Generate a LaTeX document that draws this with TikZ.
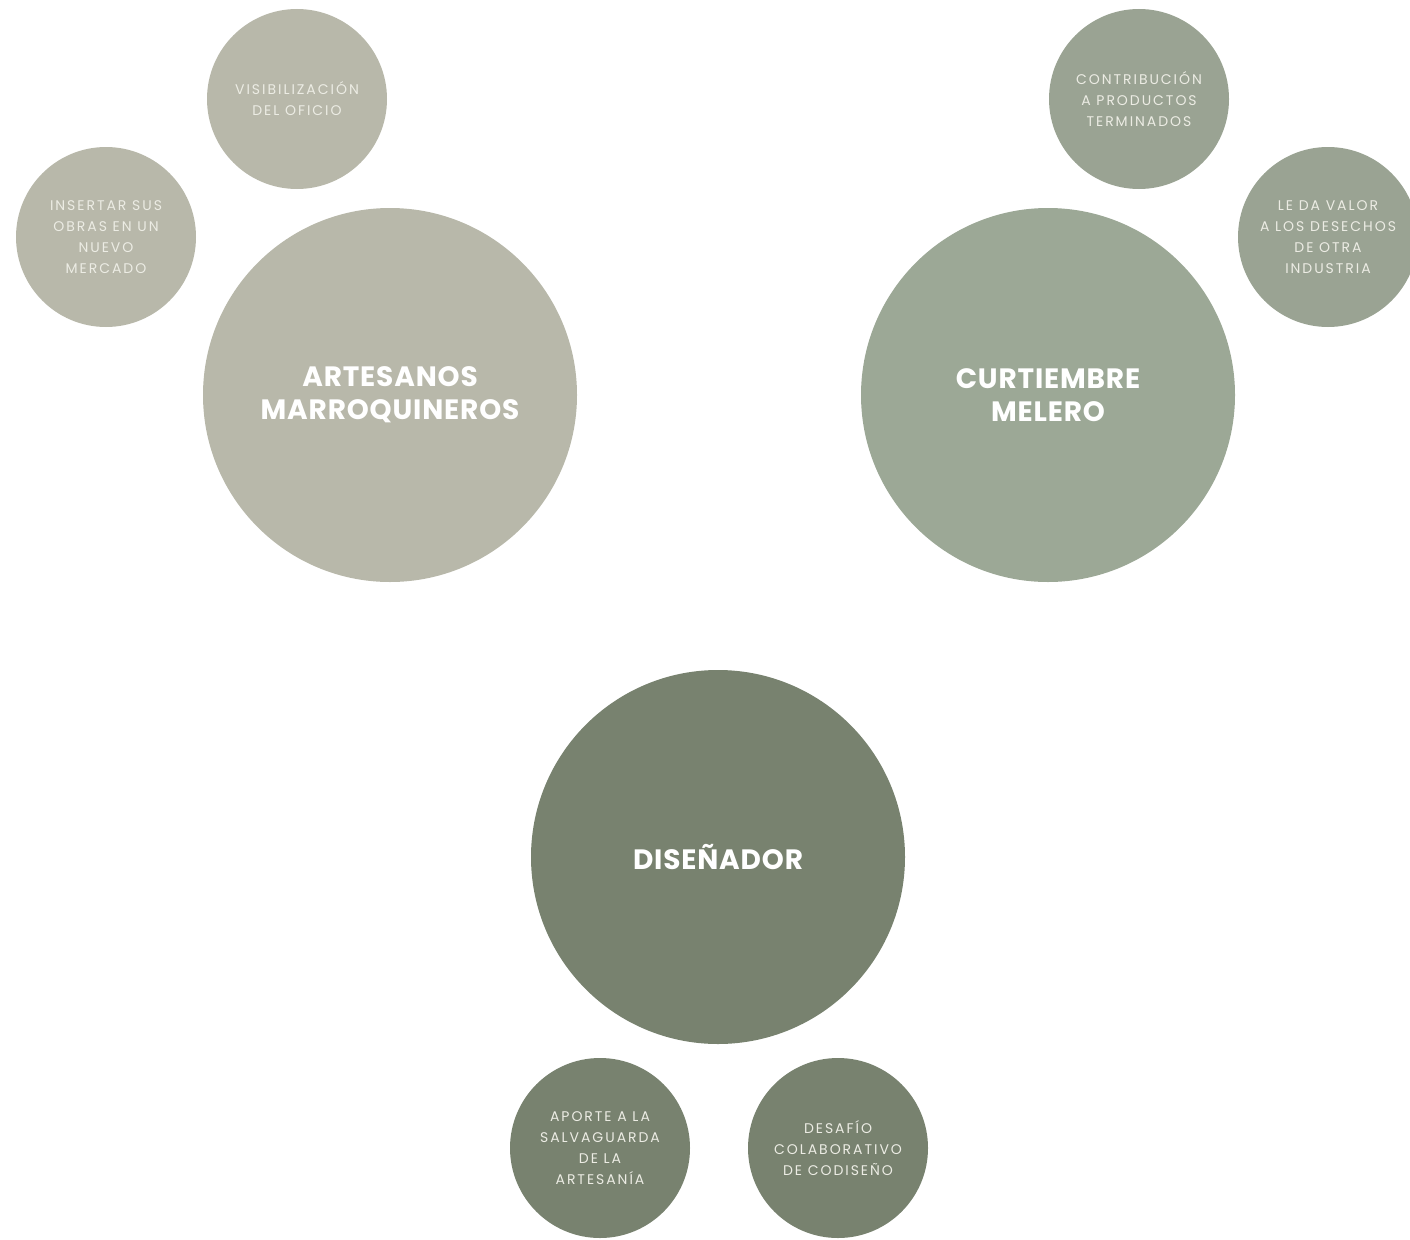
\documentclass[tikz,border=0pt]{standalone}
\usepackage{fontspec}
\setmainfont{Poppins}
\definecolor{cArt}{HTML}{B8B8AA}
\definecolor{cCur}{HTML}{9CA896}
\definecolor{cCurS}{HTML}{9AA393}
\definecolor{cDis}{HTML}{78826F}
\definecolor{txtS}{HTML}{ECECE4}
\begin{document}
\begin{tikzpicture}[x=1pt,y=-1pt,
  bigc/.style={circle,minimum size=374pt,inner sep=0pt,align=center,text=white,font=\fontsize{28}{33}\selectfont\bfseries\addfontfeature{LetterSpace=3}},
  smallc/.style={circle,minimum size=180pt,inner sep=0pt,align=center,text=txtS,font=\fontsize{14}{21}\selectfont\addfontfeature{LetterSpace=14}}]
\useasboundingbox (0,0) rectangle (1410,1239);
\node[bigc,fill=cArt] (art) at (390,395) {ARTESANOS\\MARROQUINEROS};
\node[smallc,fill=cArt] (vis) at (297,99) {VISIBILIZACIÓN\\DEL OFICIO};
\node[smallc,fill=cArt] (ins) at (106,237) {INSERTAR SUS\\OBRAS EN UN\\NUEVO\\MERCADO};
\node[bigc,fill=cCur] (cur) at (1048,395) {CURTIEMBRE\\MELERO};
\node[smallc,fill=cCurS] (con) at (1139,99) {CONTRIBUCIÓN\\A PRODUCTOS\\TERMINADOS};
\node[smallc,fill=cCurS] (val) at (1328,237) {LE DA VALOR\\A LOS DESECHOS\\DE OTRA\\INDUSTRIA};
\node[bigc,fill=cDis] (dis) at (718,857) {DISEÑADOR};
\node[smallc,fill=cDis] (apo) at (600,1148) {APORTE A LA\\SALVAGUARDA\\DE LA\\ARTESANÍA};
\node[smallc,fill=cDis] (des) at (838,1148) {DESAFÍO\\COLABORATIVO\\DE CODISEÑO};
\end{tikzpicture}
\end{document}
